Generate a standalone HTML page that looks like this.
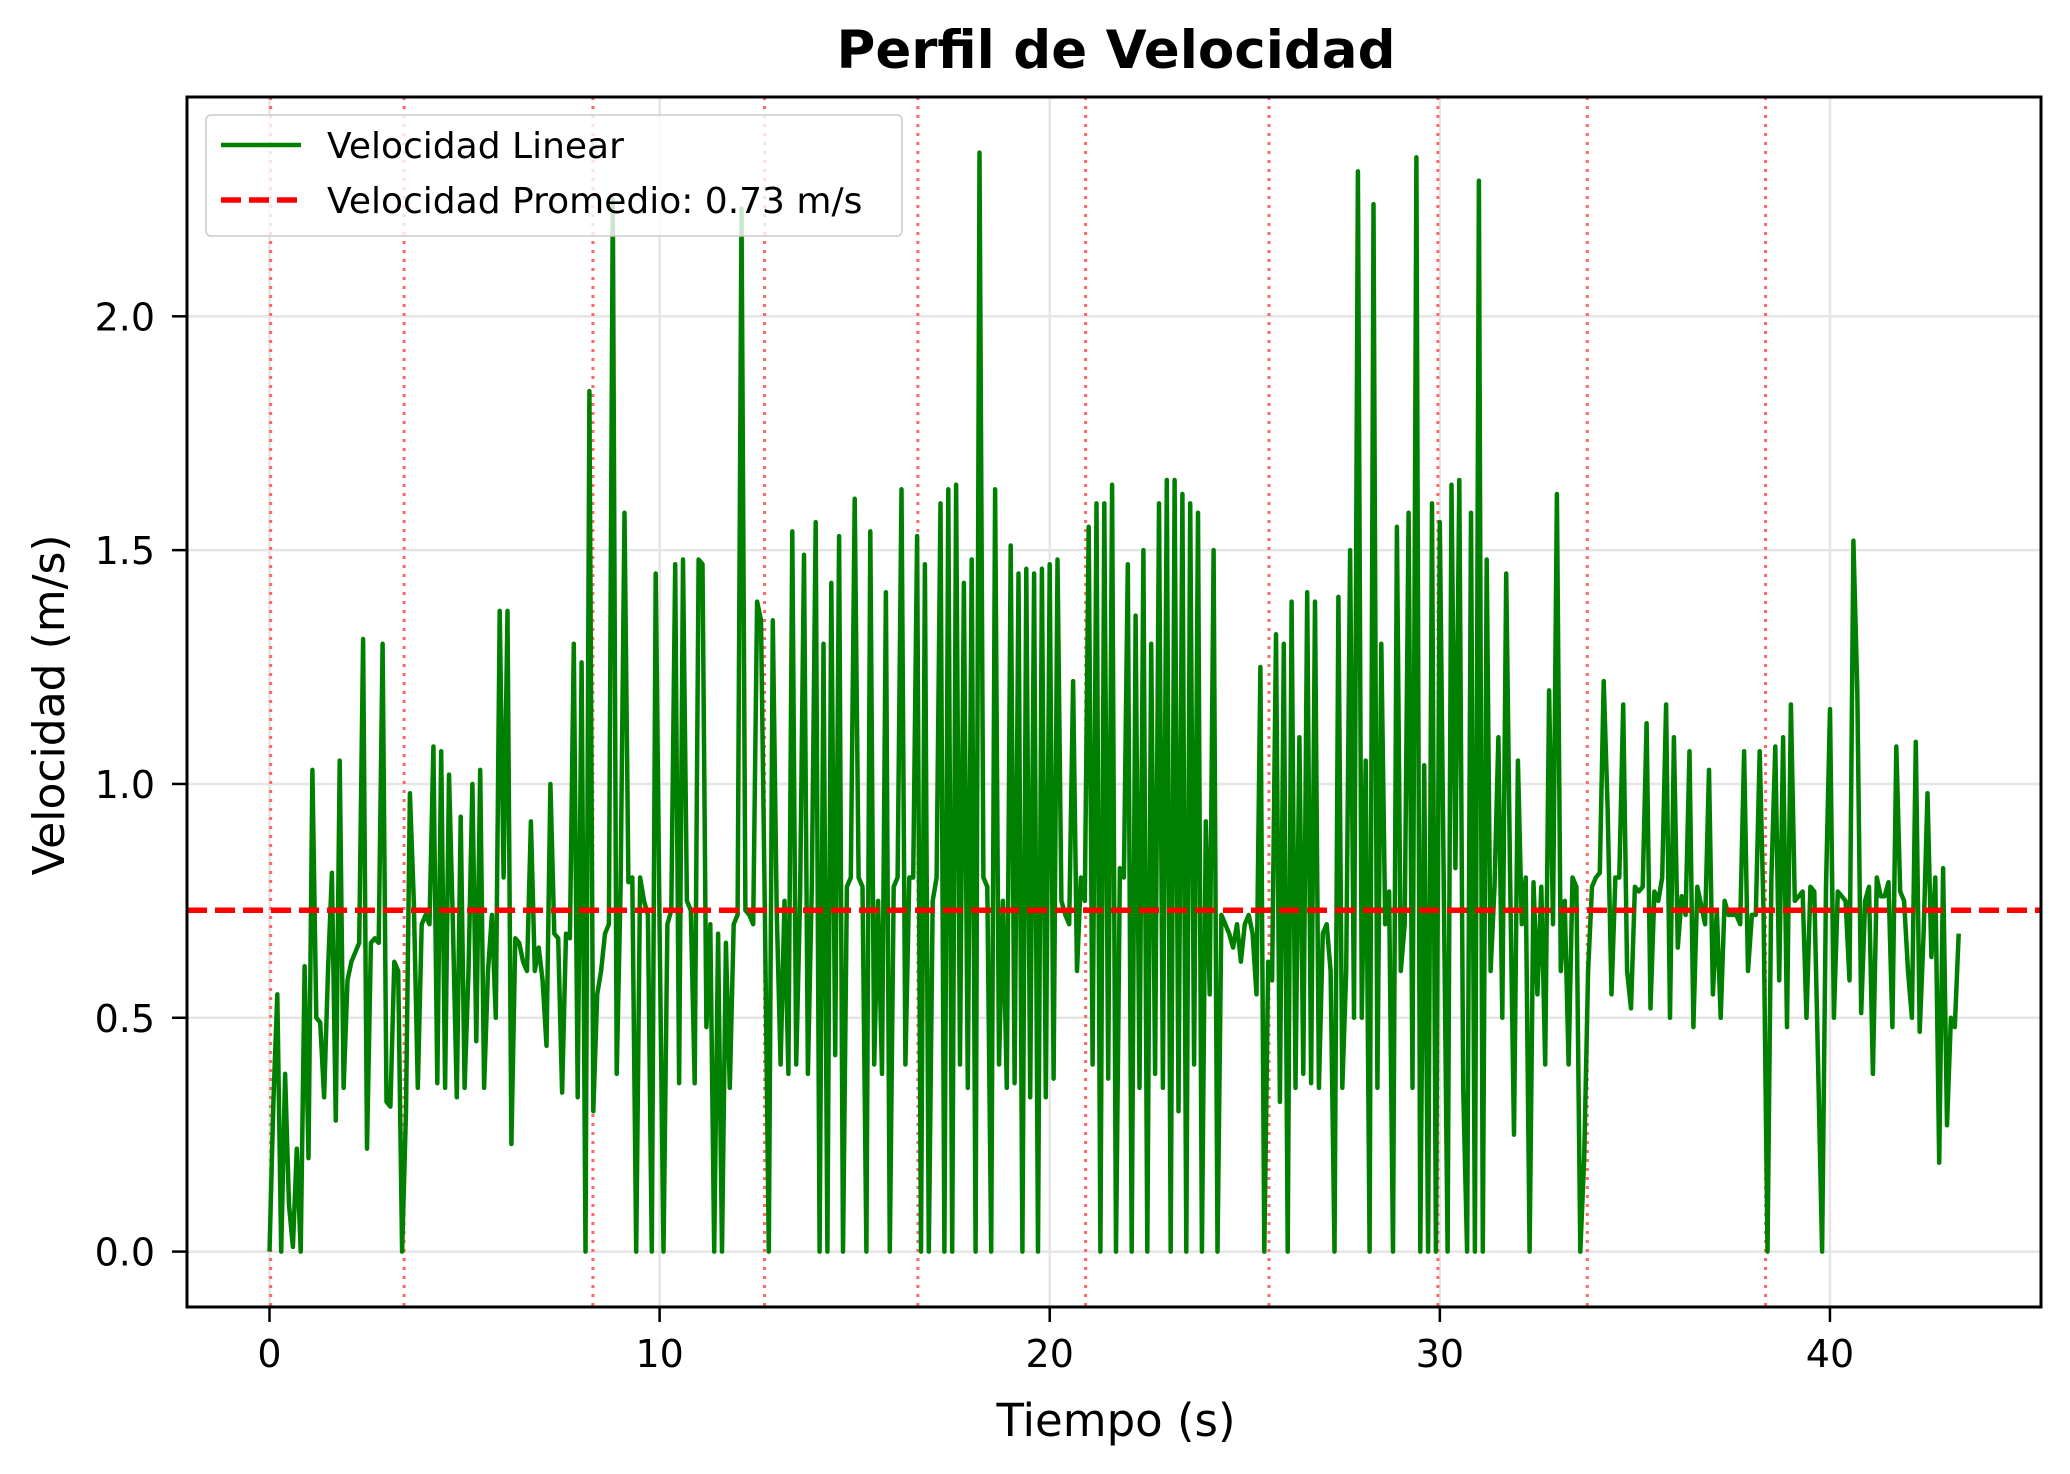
<!DOCTYPE html>
<html><head><meta charset="utf-8"><style>
html,body{margin:0;padding:0;background:#fff}
svg text{font-family:"DejaVu Sans","Liberation Sans",sans-serif}
</style></head><body>
<svg id="chart" width="2070" height="1469" viewBox="0 0 2070 1469" xmlns="http://www.w3.org/2000/svg">
<rect width="2070" height="1469" fill="#fff"/>
<g id="grid"></g>
<g id="vlines"></g>
<g id="series"></g>
<g id="axes"></g>
<text x="1116" y="68" text-anchor="middle" font-size="53" font-weight="bold">Perfil de Velocidad</text>
<text x="1116" y="1436" text-anchor="middle" font-size="45">Tiempo (s)</text>
<text x="0" y="0" transform="translate(64,705) rotate(-90)" text-anchor="middle" font-size="44">Velocidad (m/s)</text>
<g>
<rect x="206" y="115" width="696" height="121" rx="5" fill="#fff" fill-opacity="0.8" stroke="#ccc" stroke-width="1.5"/>
<line x1="221" y1="145" x2="301" y2="145" stroke="#008000" stroke-width="4.5"/>
<text x="327" y="158" font-size="36">Velocidad Linear</text>
<line x1="221" y1="200" x2="301" y2="200" stroke="#ff0000" stroke-width="5.5" stroke-dasharray="20,8"/>
<text x="327" y="213" font-size="36">Velocidad Promedio: 0.73 m/s</text>
</g>
</svg>
<script>
const speeds = [
0,0.32,0.55,0,0.38,0.1,0.01,0.22,0,0.61,
0.2,1.03,0.5,0.49,0.33,0.6,0.81,0.28,1.05,0.35,
0.58,0.62,0.64,0.66,1.31,0.22,0.66,0.67,0.66,1.3,
0.32,0.31,0.62,0.6,0,0.3,0.98,0.75,0.35,0.7,
0.72,0.7,1.08,0.36,1.07,0.35,1.02,0.7,0.33,0.93,
0.35,0.6,1.0,0.45,1.03,0.35,0.6,0.72,0.5,1.37,
0.8,1.37,0.23,0.67,0.66,0.62,0.6,0.92,0.6,0.65,
0.58,0.44,1.0,0.68,0.67,0.34,0.68,0.67,1.3,0.33,
1.26,0,1.84,0.3,0.55,0.6,0.68,0.7,2.25,0.38,
0.78,1.58,0.79,0.8,0,0.8,0.75,0.72,0,1.45,
0.69,0,0.7,0.73,1.47,0.36,1.48,0.75,0.73,0.36,
1.48,1.47,0.48,0.7,0,0.68,0,0.66,0.35,0.7,
0.72,2.23,0.73,0.72,0.7,1.39,1.35,0.72,0,1.35,
0.73,0.4,0.75,0.38,1.54,0.4,0.76,1.49,0.38,0.78,
1.56,0,1.3,0,1.43,0.42,1.53,0,0.78,0.8,
1.61,0.8,0.78,0,1.54,0.4,0.75,0.38,1.41,0,
0.78,0.8,1.63,0.4,0.8,0.8,1.53,0,1.47,0,
0.75,0.8,1.6,0,1.63,0,1.64,0.4,1.43,0.35,
1.48,0,2.35,0.8,0.78,0,1.63,0.4,0.75,0.35,
1.51,0.36,1.45,0,1.46,0.33,1.45,0,1.46,0.33,
1.47,0.37,1.48,0.75,0.72,0.7,1.22,0.6,0.8,0.75,
1.55,0.4,1.6,0,1.6,0.37,1.64,0,0.82,0.8,
1.47,0,1.36,0.35,1.5,0,1.3,0.38,1.6,0.35,
1.65,0,1.65,0.3,1.62,0,1.6,0.4,1.58,0,
0.92,0.55,1.5,0,0.72,0.7,0.68,0.65,0.7,0.62,
0.7,0.72,0.68,0.55,1.25,0,0.62,0.58,1.32,0.32,
1.3,0,1.39,0.35,1.1,0.38,1.41,0.36,1.39,0.35,
0.68,0.7,0.6,0,1.4,0.35,0.6,1.5,0.5,2.31,
0.5,1.05,0,2.24,0.35,1.3,0.7,0.77,0,1.55,
0.6,0.7,1.58,0.35,2.34,0,1.04,0,1.6,0,
1.56,0.8,0,1.64,0.82,1.65,0.35,0,1.58,0,
2.29,0,1.48,0.6,0.78,1.1,0.5,1.45,0.8,0.25,
1.05,0.7,0.8,0,0.79,0.55,0.78,0.4,1.2,0.7,
1.62,0.6,0.75,0.4,0.8,0.78,0,0.2,0.6,0.78,
0.8,0.81,1.22,0.95,0.55,0.8,0.8,1.17,0.6,0.52,
0.78,0.77,0.78,1.13,0.52,0.77,0.75,0.8,1.17,0.5,
1.1,0.65,0.76,0.72,1.07,0.48,0.78,0.74,0.7,1.03,
0.55,0.73,0.5,0.75,0.72,0.72,0.72,0.7,1.07,0.6,
0.72,0.72,1.07,0.72,0,0.8,1.08,0.58,1.1,0.48,
1.17,0.75,0.76,0.77,0.5,0.78,0.77,0.39,0,0.78,
1.16,0.5,0.77,0.76,0.75,0.58,1.52,1.2,0.51,0.75,
0.78,0.38,0.8,0.76,0.76,0.79,0.48,1.08,0.77,0.75,
0.6,0.5,1.09,0.47,0.68,0.98,0.63,0.8,0.19,0.82,
0.27,0.5,0.48,0.68
];
const sampleStep = 0.1;
const meanSpeed = 0.73;
const segmentTimes = [0.03,3.45,8.29,12.69,16.62,20.92,25.62,29.95,33.78,38.35];
const xTicks = [0,10,20,30,40];
const yTicks = [0,0.5,1.0,1.5,2.0];
const yTickLabels = ["0.0","0.5","1.0","1.5","2.0"];

const L=187,R=2041,T=97,B=1307;
const X0=-2.115,X1=45.41,Y0=-0.1185,Y1=2.469;
const sx=v=>L+(v-X0)/(X1-X0)*(R-L);
const sy=v=>B-(v-Y0)/(Y1-Y0)*(B-T);
const NS="http://www.w3.org/2000/svg";
function mk(tag,attrs,parent){const e=document.createElementNS(NS,tag);for(const k in attrs)e.setAttribute(k,attrs[k]);parent.appendChild(e);return e;}
const grid=document.getElementById('grid'),axes=document.getElementById('axes'),series=document.getElementById('series'),vl=document.getElementById('vlines');

xTicks.forEach(t=>{
  const g=mk('line',{x1:sx(t),x2:sx(t),y1:T,y2:B,stroke:'#e5e5e5','stroke-width':2.5},grid);
  
  
  const tk=mk('line',{x1:sx(t),x2:sx(t),y1:B,y2:B+15,stroke:'#000','stroke-width':2.5},axes);
  
  
  const tx=mk('text',{x:sx(t),y:B+60,'text-anchor':'middle','font-size':38},axes);
  tx.textContent=String(t);
  
  
});
yTicks.forEach((t,i)=>{
  const g=mk('line',{x1:L,x2:R,y1:sy(t),y2:sy(t),stroke:'#e5e5e5','stroke-width':2.5},grid);
  
  
  const tk=mk('line',{x1:L-15,x2:L,y1:sy(t),y2:sy(t),stroke:'#000','stroke-width':2.5},axes);
  
  
  const tx=mk('text',{x:L-32,y:sy(t)+14,'text-anchor':'end','font-size':38},axes);
  tx.textContent=yTickLabels[i];
  
  
});
segmentTimes.forEach(t=>{
  const l=mk('line',{x1:sx(t),x2:sx(t),y1:T,y2:B,stroke:'#ff6666','stroke-width':3,'stroke-dasharray':'3,6'},vl);
  
  
});
const pts=speeds.map((v,i)=>sx(i*sampleStep).toFixed(1)+','+sy(v).toFixed(1)).join(' ');
const pl=mk('polyline',{points:pts,fill:'none',stroke:'#008000','stroke-width':4.5,'stroke-linejoin':'round'},series);


const ml=mk('line',{x1:L,x2:R,y1:sy(meanSpeed),y2:sy(meanSpeed),stroke:'#ff0000','stroke-width':5.5,'stroke-dasharray':'20,8'},series);


const fr=mk('rect',{x:L,y:T,width:R-L,height:B-T,fill:'none',stroke:'#000','stroke-width':3},axes);


</script>
</body></html>
